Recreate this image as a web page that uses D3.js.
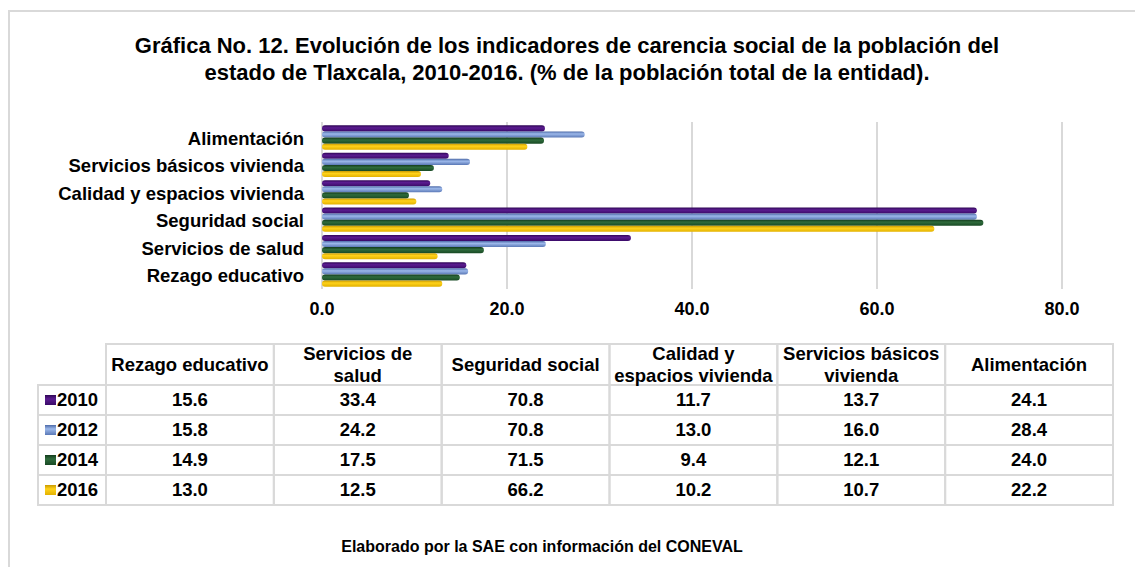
<!DOCTYPE html>
<html>
<head>
<meta charset="utf-8">
<script src="https://cdn.jsdelivr.net/npm/d3@7"></script>
<style>
  body { margin: 0; background: #fff; }
  text { font-family: "Liberation Sans", Arial, sans-serif; font-weight: bold; fill: #000; }
</style>
</head>
<body>
<svg id="chart"></svg>
<script>
const categories = [
  "Rezago educativo",
  "Servicios de salud",
  "Seguridad social",
  "Calidad y espacios vivienda",
  "Servicios básicos vivienda",
  "Alimentación"
];
const headerLines = [
  ["Rezago educativo"],
  ["Servicios de", "salud"],
  ["Seguridad social"],
  ["Calidad y", "espacios vivienda"],
  ["Servicios básicos", "vivienda"],
  ["Alimentación"]
];
const years = ["2010", "2012", "2014", "2016"];
const values2010 = [15.6, 33.4, 70.8, 11.7, 13.7, 24.1];
const values2012 = [15.8, 24.2, 70.8, 13.0, 16.0, 28.4];
const values2014 = [14.9, 17.5, 71.5, 9.4, 12.1, 24.0];
const values2016 = [13.0, 12.5, 66.2, 10.2, 10.7, 22.2];
const xTicks = [0, 20, 40, 60, 80];
const titleLines = [
  "Gráfica No. 12. Evolución de los indicadores de carencia social de la población del",
  "estado de Tlaxcala, 2010-2016. (% de la población total de la entidad)."
];
const sourceNote = "Elaborado por la SAE con información del CONEVAL";

const seriesValues = [values2010, values2012, values2014, values2016];
const seriesColors = [
  ["#2f0656", "#5b1c90", "#3a0a68"],
  ["#4d6aa8", "#9cb8ea", "#5a78b6"],
  ["#123b1c", "#2f6b3c", "#184a24"],
  ["#c99a00", "#ffd21a", "#e2b100"]
];

const width = 1135, height = 567;
const svg = d3.select("#chart").attr("width", width).attr("height", height);

// frame
svg.append("rect")
  .attr("x", 9).attr("y", 11)
  .attr("width", width + 20).attr("height", height + 20)
  .attr("fill", "none").attr("stroke", "#d9d9d9").attr("stroke-width", 2);

// title
svg.append("g").selectAll("text")
  .data(titleLines)
  .join("text")
  .attr("x", 567).attr("y", (d, i) => 53 + i * 27)
  .attr("text-anchor", "middle")
  .style("font-size", "22px")
  .text(d => d);

// gradients
const defs = svg.append("defs");
seriesColors.forEach((c, i) => {
  const g = defs.append("linearGradient")
    .attr("id", `grad${i}`)
    .attr("x1", 0).attr("y1", 0).attr("x2", 0).attr("y2", 1);
  g.append("stop").attr("offset", 0).attr("stop-color", c[0]);
  g.append("stop").attr("offset", 0.4).attr("stop-color", c[1]);
  g.append("stop").attr("offset", 1).attr("stop-color", c[2]);
});

// scales
const xScale = d3.scaleLinear().domain([0, 80]).range([322, 1062]);
const yScale = d3.scaleBand()
  .domain(categories.slice().reverse())
  .range([124, 288])
  .paddingInner(0.11)
  .paddingOuter(0.05);
const yInner = d3.scaleBand().domain(years).range([0, yScale.bandwidth()]);

// gridlines
svg.append("g").selectAll("line")
  .data(xTicks)
  .join("line")
  .attr("x1", d => xScale(d)).attr("x2", d => xScale(d))
  .attr("y1", 122).attr("y2", 289)
  .attr("stroke", "#d9d9d9").attr("stroke-width", 2);

// bars
const barData = [];
categories.forEach((cat, ci) => {
  years.forEach((yr, si) => {
    barData.push({ cat, yr, si, value: seriesValues[si][ci] });
  });
});
svg.append("g").selectAll("rect")
  .data(barData)
  .join("rect")
  .attr("x", xScale(0))
  .attr("y", d => yScale(d.cat) + yInner(d.yr))
  .attr("width", d => xScale(d.value) - xScale(0))
  .attr("height", yInner.bandwidth())
  .attr("rx", 3)
  .attr("fill", d => `url(#grad${d.si})`);

// category labels
svg.append("g").selectAll("text")
  .data(categories)
  .join("text")
  .attr("x", 304)
  .attr("y", d => yScale(d) + yScale.bandwidth() / 2 + 1)
  .attr("dy", "0.35em")
  .attr("text-anchor", "end")
  .style("font-size", "18.5px")
  .text(d => d);

// x tick labels
svg.append("g").selectAll("text")
  .data(xTicks)
  .join("text")
  .attr("x", d => xScale(d))
  .attr("y", 315)
  .attr("text-anchor", "middle")
  .style("font-size", "18px")
  .text(d => d3.format(".1f")(d));

// table
const colScale = d3.scaleBand().domain(categories).range([106, 1113]);
const rowScale = d3.scaleBand().domain(years).range([385, 505]);
const table = svg.append("g");
const gridColor = "#d9d9d9";

// header cells
table.selectAll(".hcell")
  .data(categories)
  .join("rect")
  .attr("class", "hcell")
  .attr("x", d => colScale(d)).attr("y", 344)
  .attr("width", colScale.bandwidth()).attr("height", 41)
  .attr("fill", "none").attr("stroke", gridColor).attr("stroke-width", 2);

// body cells
years.forEach(yr => {
  table.append("rect")
    .attr("x", 38).attr("y", rowScale(yr))
    .attr("width", 68).attr("height", rowScale.bandwidth())
    .attr("fill", "none").attr("stroke", gridColor).attr("stroke-width", 2);
  categories.forEach(cat => {
    table.append("rect")
      .attr("x", colScale(cat)).attr("y", rowScale(yr))
      .attr("width", colScale.bandwidth()).attr("height", rowScale.bandwidth())
      .attr("fill", "none").attr("stroke", gridColor).attr("stroke-width", 2);
  });
});

// header text
categories.forEach((cat, ci) => {
  const lines = headerLines[ci];
  const cx = colScale(cat) + colScale.bandwidth() / 2;
  const top = lines.length === 1 ? 365 : 354;
  lines.forEach((ln, li) => {
    table.append("text")
      .attr("x", cx).attr("y", top + li * 22)
      .attr("dy", "0.35em")
      .attr("text-anchor", "middle")
      .style("font-size", "18.5px")
      .text(ln);
  });
});

// row labels with legend keys
years.forEach((yr, si) => {
  const cy = rowScale(yr) + rowScale.bandwidth() / 2;
  table.append("rect")
    .attr("x", 45).attr("y", cy - 5)
    .attr("width", 11).attr("height", 10)
    .attr("fill", `url(#grad${si})`);
  table.append("text")
    .attr("x", 57).attr("y", cy)
    .attr("dy", "0.35em")
    .style("font-size", "18.5px")
    .text(yr);
  categories.forEach((cat, ci) => {
    table.append("text")
      .attr("x", colScale(cat) + colScale.bandwidth() / 2)
      .attr("y", cy)
      .attr("dy", "0.35em")
      .attr("text-anchor", "middle")
      .style("font-size", "18.5px")
      .text(d3.format(".1f")(seriesValues[si][ci]));
  });
});

// source note
svg.append("text")
  .attr("x", 542).attr("y", 552)
  .attr("text-anchor", "middle")
  .style("font-size", "16px")
  .text(sourceNote);
</script>
</body>
</html>
